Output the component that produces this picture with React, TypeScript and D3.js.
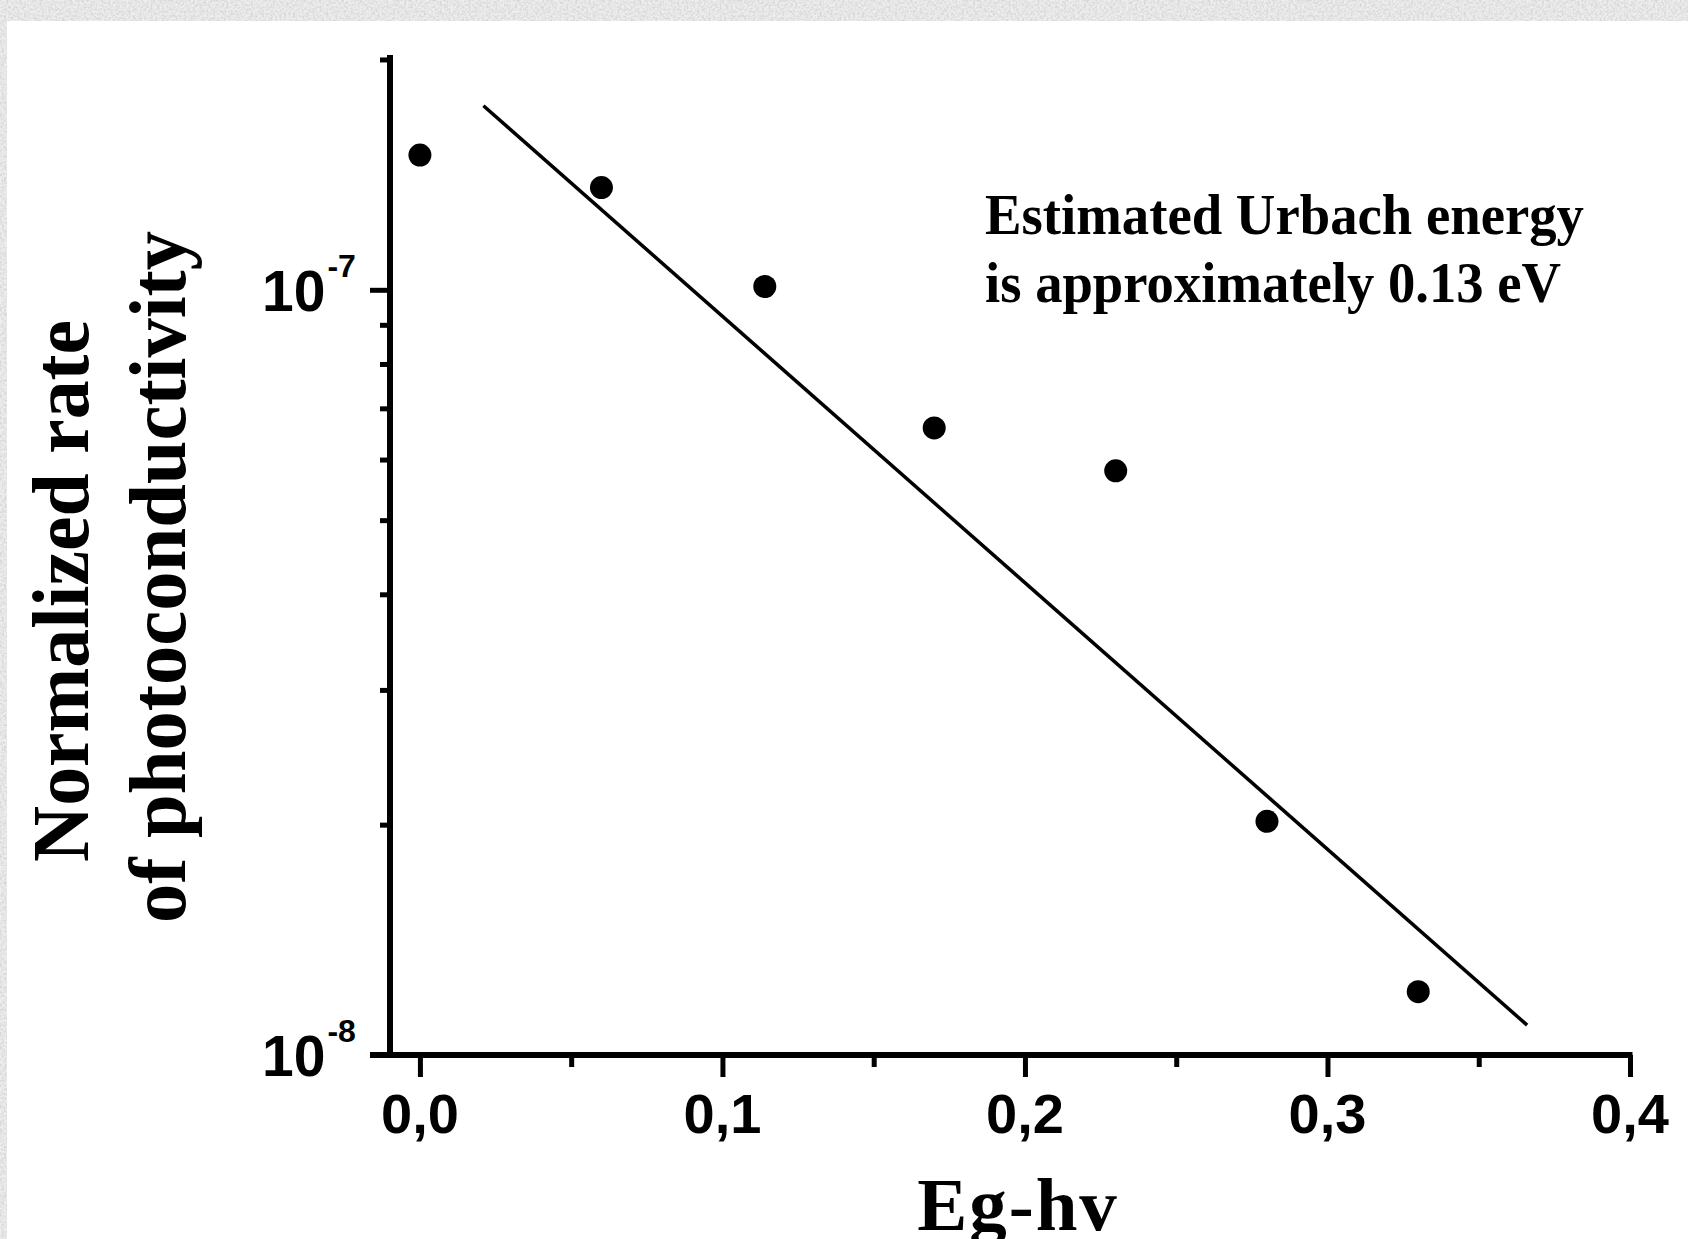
import React, { useRef, useEffect } from 'react';
import * as d3 from 'd3';

// measured points
const egValues = [0, 0.06, 0.114, 0.17, 0.23, 0.28, 0.33];
const rateValues = [1.5e-7, 1.36e-7, 1.01e-7, 6.6e-8, 5.8e-8, 2.02e-8, 1.21e-8];

// linear fit on log scale (two end points)
const fitEg = [0.021, 0.366];
const fitRate = [1.74e-7, 1.094e-8];

const xMajor = [0, 0.1, 0.2, 0.3, 0.4];
const xLabels = ['0,0', '0,1', '0,2', '0,3', '0,4'];
const xMinor = [0.05, 0.15, 0.25, 0.35];
const yMajor = [1e-8, 1e-7];
const yExponents = ['-8', '-7'];
const yMinor = [2e-8, 3e-8, 4e-8, 5e-8, 6e-8, 7e-8, 8e-8, 9e-8, 2e-7];

const noteLines = ['Estimated Urbach energy', 'is approximately 0.13 eV'];
const yTitleLines = ['Normalized rate', 'of photoconductivity'];
const xTitle = 'Eg-hv';

const W = 1688;
const H = 1239;
const SERIF = '"Liberation Serif", "Times New Roman", serif';
const SANS = '"Liberation Sans", Arial, sans-serif';

function App() {
  const svgRef = useRef(null);

  useEffect(() => {
    const svg = d3.select(svgRef.current);
    svg.selectAll('*').remove();

    // textured grey frame + white panel
    const defs = svg.append('defs');
    const f = defs.append('filter').attr('id', 'grain')
      .attr('x', 0).attr('y', 0).attr('width', '100%').attr('height', '100%');
    f.append('feTurbulence').attr('type', 'fractalNoise')
      .attr('baseFrequency', 0.45).attr('numOctaves', 2).attr('seed', 4);
    f.append('feColorMatrix').attr('type', 'matrix')
      .attr('values', '0 0 0 0 0.55  0 0 0 0 0.55  0 0 0 0 0.55  1.3 0 0 0 -0.45');
    svg.append('rect').attr('width', W).attr('height', H).attr('fill', '#eeeeee');
    svg.append('rect').attr('width', W).attr('height', H).attr('filter', 'url(#grain)');
    svg.append('rect').attr('x', 7).attr('y', 21).attr('width', W - 7).attr('height', H - 21)
      .attr('fill', '#ffffff');

    const x = d3.scaleLinear().domain([-0.0165, 0.4]).range([370, 1630]);
    const y = d3.scaleLog().domain([1e-8, 2.027e-7]).range([1055, 55]);

    const yAxisX = 390;
    const xAxisY = 1055;

    // x axis ticks
    const xg = svg.append('g').attr('transform', `translate(0, ${xAxisY})`);
    xg.call(d3.axisBottom(x).tickValues(xMajor).tickSize(22).tickFormat(() => ''))
      .call(g => g.select('.domain').remove());
    xg.selectAll('.tick line').attr('stroke', '#000').attr('stroke-width', 5);
    const xm = svg.append('g').attr('transform', `translate(0, ${xAxisY})`);
    xm.call(d3.axisBottom(x).tickValues(xMinor).tickSize(12).tickFormat(() => ''))
      .call(g => g.select('.domain').remove());
    xm.selectAll('.tick line').attr('stroke', '#000').attr('stroke-width', 5);

    // y axis ticks
    const yg = svg.append('g').attr('transform', `translate(${yAxisX}, 0)`);
    yg.call(d3.axisLeft(y).tickValues(yMajor).tickSize(20).tickFormat(() => ''))
      .call(g => g.select('.domain').remove());
    yg.selectAll('.tick line').attr('stroke', '#000').attr('stroke-width', 5);
    const ym = svg.append('g').attr('transform', `translate(${yAxisX}, 0)`);
    ym.call(d3.axisLeft(y).tickValues(yMinor).tickSize(10).tickFormat(() => ''))
      .call(g => g.select('.domain').remove());
    ym.selectAll('.tick line').attr('stroke', '#000').attr('stroke-width', 5);

    // axis lines
    svg.append('line')
      .attr('x1', 370).attr('x2', x(0.4) + 2.5)
      .attr('y1', xAxisY).attr('y2', xAxisY)
      .attr('stroke', '#000').attr('stroke-width', 6);
    svg.append('line')
      .attr('x1', yAxisX).attr('x2', yAxisX)
      .attr('y1', y(2.027e-7)).attr('y2', xAxisY + 3)
      .attr('stroke', '#000').attr('stroke-width', 6);

    // x tick labels
    svg.append('g').selectAll('text')
      .data(xMajor)
      .join('text')
      .attr('x', d => x(d))
      .attr('y', 1133)
      .attr('text-anchor', 'middle')
      .attr('font-family', SANS)
      .attr('font-weight', 'bold')
      .attr('font-size', 56)
      .text((d, i) => xLabels[i]);

    // y tick labels: 10 with superscript exponent
    const yl = svg.append('g').selectAll('text')
      .data(yMajor)
      .join('text')
      .attr('x', 262)
      .attr('y', d => y(d) + 21)
      .attr('font-family', SANS)
      .attr('font-weight', 'bold')
      .attr('font-size', 57);
    yl.append('tspan').text('10');
    yl.append('tspan')
      .attr('font-size', 32)
      .attr('dx', 2)
      .attr('dy', -34)
      .text((d, i) => yExponents[i]);

    // fit line
    const line = d3.line<number>()
      .x((d, i) => x(fitEg[i]))
      .y((d, i) => y(fitRate[i]));
    svg.append('path')
      .attr('d', line(fitEg))
      .attr('fill', 'none')
      .attr('stroke', '#000')
      .attr('stroke-width', 3.5);

    // data points
    svg.append('g').selectAll('circle')
      .data(egValues)
      .join('circle')
      .attr('cx', d => x(d))
      .attr('cy', (d, i) => y(rateValues[i]))
      .attr('r', 11.5)
      .attr('fill', '#000');

    // annotation
    svg.append('g').selectAll('text')
      .data(noteLines)
      .join('text')
      .attr('x', 985)
      .attr('y', (d, i) => 234 + i * 68)
      .attr('font-family', SERIF)
      .attr('font-weight', 'bold')
      .attr('font-size', 57)
      .attr('textLength', (d, i) => (i === 0 ? 599 : 576))
      .attr('lengthAdjust', 'spacingAndGlyphs')
      .text(d => d);

    // y title (rotated, two lines)
    const yCenters = [591, 577];
    const yBase = [88, 185];
    const yLens = [542, 692];
    svg.append('g').selectAll('text')
      .data(yTitleLines)
      .join('text')
      .attr('transform', (d, i) => `translate(${yBase[i]}, ${yCenters[i]}) rotate(-90)`)
      .attr('text-anchor', 'middle')
      .attr('font-family', SERIF)
      .attr('font-weight', 'bold')
      .attr('font-size', 80)
      .attr('textLength', (d, i) => yLens[i])
      .attr('lengthAdjust', 'spacingAndGlyphs')
      .text(d => d);

    // x title (its descender runs off the bottom edge, as in the original)
    svg.append('text')
      .attr('x', 1018)
      .attr('y', 1230)
      .attr('text-anchor', 'middle')
      .attr('font-family', SERIF)
      .attr('font-weight', 'bold')
      .attr('font-size', 75)
      .attr('letter-spacing', 2)
      .text(xTitle);
  }, []);

  return (
    <svg
      ref={svgRef}
      width={W}
      height={H}
      style={{ position: 'absolute', left: 0, top: 0, display: 'block' }}
    />
  );
}

export default App;
